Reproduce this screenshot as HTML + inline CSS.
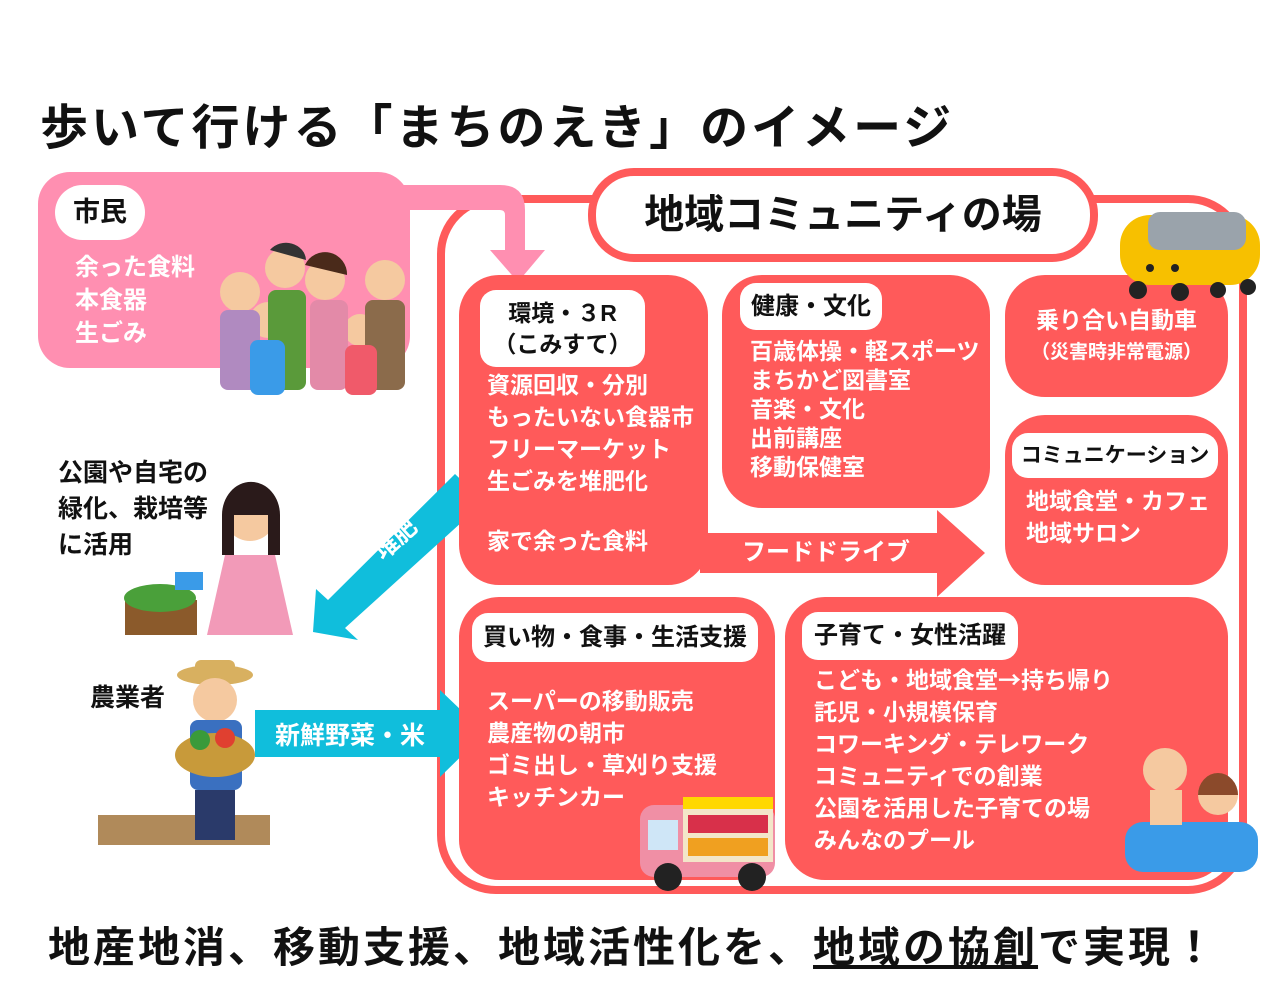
<!DOCTYPE html>
<html><head><meta charset="utf-8"><style>
body{margin:0;width:1270px;height:1000px;background:#fff;position:relative;overflow:hidden;font-family:"Liberation Sans","Noto Sans CJK JP",sans-serif;font-weight:bold}
.a{position:absolute}
.r{position:absolute;background:#FF5A5A;border-radius:40px}
.l{position:absolute;background:#fff;border-radius:16px;color:#111;font-size:24px;text-align:center}
.t{position:absolute;color:#fff;font-size:23px;line-height:32px;white-space:nowrap}
.k{position:absolute;color:#111;font-size:25px;line-height:36px;white-space:nowrap}
</style></head><body>
<div class="a" style="left:40px;top:88px;font-size:48px;letter-spacing:3px;color:#111;white-space:nowrap">歩いて行ける「まちのえき」のイメージ</div>

<svg class="a" style="left:0;top:0" width="1270" height="1000">
<rect x="441" y="199" width="802" height="691" rx="55" fill="none" stroke="#FF5A5A" stroke-width="8"/>
<rect x="38" y="172" width="372" height="196" rx="32" fill="#FF8FB1"/>
<path d="M380 185 H500 Q525 185 525 210 V250 H545 L518 282 L490 250 H505 V215 Q505 210 500 210 H380Z" fill="#FF8FB1"/>
<path d="M700 533 H937 V510 L985 553 L937 597 V573 H700Z" fill="#FF5A5A"/>
<path d="M455 474 L484 502 L345 628 L358 640 L313 632 L316 589 L328 600 Z" fill="#10BEDC"/>
<path d="M255 710 H440 V690 L485 733 L440 777 V757 H255Z" fill="#10BEDC"/>
<!-- family -->
<g><circle cx="240" cy="292" r="20" fill="#F5C9A0"/><circle cx="285" cy="268" r="20" fill="#F5C9A0"/><circle cx="325" cy="280" r="20" fill="#F5C9A0"/><circle cx="385" cy="280" r="20" fill="#F5C9A0"/><circle cx="268" cy="320" r="18" fill="#F5C9A0"/><circle cx="360" cy="330" r="16" fill="#F5C9A0"/>
<rect x="220" y="310" width="40" height="80" rx="8" fill="#b08ac0"/><rect x="268" y="290" width="38" height="100" rx="8" fill="#5a9a3a"/><rect x="310" y="300" width="38" height="90" rx="8" fill="#e38aa8"/><rect x="365" y="300" width="40" height="90" rx="8" fill="#8b6b4b"/><rect x="250" y="340" width="35" height="55" rx="8" fill="#3a9be8"/><rect x="345" y="345" width="32" height="50" rx="8" fill="#f05a6a"/><path d="M270 250 a20 18 0 0 1 36 10 Z" fill="#333"/><path d="M305 265 a22 22 0 0 1 42 10 Z" fill="#4a2a1a"/></g>
<!-- woman -->
<g><circle cx="250" cy="515" r="26" fill="#F5C9A0"/><path d="M222 515 a28 32 0 0 1 58 0 v40 h-12 v-40 h-34 v40 h-12Z" fill="#2a1a1a"/><path d="M225 555 h50 l18 80 h-86Z" fill="#F29ab8"/><rect x="125" y="600" width="72" height="35" fill="#8b5a2b"/><ellipse cx="160" cy="598" rx="36" ry="14" fill="#4aa03a"/><rect x="175" y="572" width="28" height="18" fill="#3a9be8"/></g>
<!-- farmer -->
<g><rect x="98" y="815" width="172" height="30" fill="#b08a5a"/><ellipse cx="215" cy="675" rx="38" ry="10" fill="#d8b060"/><rect x="195" y="660" width="40" height="18" rx="6" fill="#d8b060"/><circle cx="215" cy="700" r="22" fill="#F5C9A0"/><rect x="190" y="720" width="52" height="70" rx="8" fill="#3a70c0"/><ellipse cx="215" cy="755" rx="40" ry="22" fill="#c89a3a"/><circle cx="200" cy="740" r="10" fill="#3a9a3a"/><circle cx="225" cy="738" r="10" fill="#e04030"/><rect x="195" y="790" width="40" height="50" fill="#2a3a6a"/></g>
</svg>

<div class="l" style="left:55px;top:185px;width:90px;height:55px;line-height:55px;border-radius:28px;font-size:27px">市民</div>
<div class="t" style="left:75px;top:251px;font-size:24px;line-height:33px">余った食料<br>本食器<br>生ごみ</div>

<div class="k" style="left:58px;top:455px">公園や自宅の<br>緑化、栽培等<br>に活用</div>
<div class="k" style="left:90px;top:680px">農業者</div>
<div class="a" style="left:370px;top:520px;color:#fff;font-size:24px;transform:rotate(-42deg)">堆肥</div>
<div class="a" style="left:275px;top:716px;color:#fff;font-size:25px">新鮮野菜・米</div>

<div class="a" style="left:588px;top:168px;width:494px;height:78px;border:8px solid #FF5A5A;border-radius:46px;background:#fff;text-align:center;line-height:78px;font-size:40px;color:#111">地域コミュニティの場</div>

<div class="r" style="left:459px;top:275px;width:249px;height:310px"></div>
<div class="l" style="left:480px;top:290px;width:165px;height:77px;font-size:23px;line-height:31px;padding-top:8px;box-sizing:border-box">環境・３R<br>（こみすて）</div>
<div class="t" style="left:487px;top:369px">資源回収・分別<br>もったいない食器市<br>フリーマーケット<br>生ごみを堆肥化</div>
<div class="t" style="left:487px;top:525px">家で余った食料</div>

<div class="r" style="left:722px;top:275px;width:268px;height:233px"></div>
<div class="l" style="left:740px;top:283px;width:142px;height:47px;line-height:47px">健康・文化</div>
<div class="t" style="left:750px;top:337px;line-height:29px">百歳体操・軽スポーツ<br>まちかど図書室<br>音楽・文化<br>出前講座<br>移動保健室</div>

<div class="r" style="left:1005px;top:275px;width:223px;height:122px"></div>
<div class="t" style="left:1005px;top:305px;width:223px;text-align:center;line-height:30px">乗り合い自動車<br><span style="font-size:19px">（災害時非常電源）</span></div>

<div class="r" style="left:1005px;top:415px;width:223px;height:170px"></div>
<div class="l" style="left:1012px;top:433px;width:206px;height:45px;line-height:45px;font-size:21px">コミュニケーション</div>
<div class="t" style="left:1026px;top:485px">地域食堂・カフェ<br>地域サロン</div>

<div class="t" style="left:742px;top:537px;font-size:24px">フードドライブ</div>

<div class="r" style="left:459px;top:597px;width:316px;height:283px"></div>
<div class="l" style="left:472px;top:613px;width:286px;height:49px;line-height:49px">買い物・食事・生活支援</div>
<div class="t" style="left:487px;top:685px">スーパーの移動販売<br>農産物の朝市<br>ゴミ出し・草刈り支援<br>キッチンカー</div>

<div class="r" style="left:785px;top:597px;width:443px;height:283px"></div>
<div class="l" style="left:802px;top:612px;width:216px;height:48px;line-height:48px">子育て・女性活躍</div>
<div class="t" style="left:814px;top:662px">こども・地域食堂<span style="font-family:'Noto Sans CJK JP',sans-serif">→</span>持ち帰り<br>託児・小規模保育<br>コワーキング・テレワーク<br>コミュニティでの創業<br>公園を活用した子育ての場<br>みんなのプール</div>

<svg class="a" style="left:0;top:0" width="1270" height="1000">
<rect x="1125" y="822" width="133" height="50" rx="18" fill="#3A9BE8"/><circle cx="1165" cy="770" r="22" fill="#F5C9A0"/><rect x="1150" y="790" width="32" height="35" fill="#F5C9A0"/><circle cx="1218" cy="795" r="20" fill="#F5C9A0"/><path d="M1198 795 a20 22 0 0 1 40 0 Z" fill="#8b4a2b"/>
<rect x="1120" y="215" width="140" height="70" rx="30" fill="#F7C000"/><rect x="1148" y="212" width="98" height="38" rx="12" fill="#9aa3ab"/><circle cx="1150" cy="268" r="4" fill="#222"/><circle cx="1175" cy="268" r="4" fill="#222"/><circle cx="1138" cy="290" r="9" fill="#222"/><circle cx="1180" cy="292" r="9" fill="#222"/><circle cx="1218" cy="290" r="8" fill="#222"/><circle cx="1248" cy="287" r="8" fill="#222"/>
<rect x="640" y="805" width="135" height="72" rx="14" fill="#F08FA5"/><rect x="683" y="797" width="90" height="65" fill="#f3e6c9"/><rect x="683" y="797" width="90" height="12" fill="#FFD800"/><rect x="688" y="815" width="80" height="18" fill="#d8304a"/><rect x="688" y="838" width="80" height="18" fill="#f0a020"/><rect x="648" y="820" width="30" height="30" fill="#cfe6f7"/><circle cx="668" cy="877" r="14" fill="#222"/><circle cx="752" cy="877" r="14" fill="#222"/>
</svg>

<div class="a" style="left:48px;top:914px;font-size:42px;letter-spacing:3px;color:#111;white-space:nowrap">地産地消、移動支援、地域活性化を、<span style="text-decoration:underline">地域の協創</span>で実現！</div>
</body></html>
